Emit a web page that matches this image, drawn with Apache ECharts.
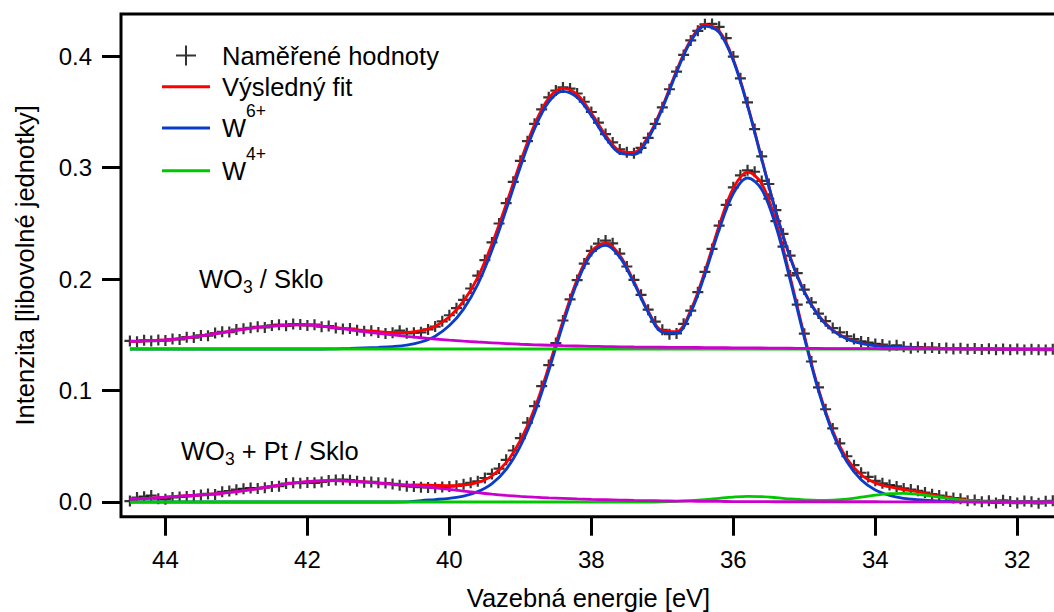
<!DOCTYPE html>
<html lang="cs">
<head>
<meta charset="utf-8">
<title>W 4f – WO3 / Sklo a WO3 + Pt / Sklo</title>
<script src="https://cdn.jsdelivr.net/npm/echarts@6.0.0/dist/echarts.min.js"></script>
<style>
  html, body { margin: 0; padding: 0; background: #fff; }
  #chart { width: 1054px; height: 612px; }
</style>
</head>
<body>
<div id="chart"></div>
<script>
// osa x: vazebná energie (eV), osa y: intenzita
const X_TICKS = [44, 42, 40, 38, 36, 34, 32];
const Y_TICKS = [0, 0.1, 0.2, 0.3, 0.4];

// naměřené body (krok 0.1 eV)
const DATA_E = [
  44.5, 44.4, 44.3, 44.2, 44.1, 44.0, 43.9, 43.8, 43.7, 43.6,
  43.5, 43.4, 43.3, 43.2, 43.1, 43.0, 42.9, 42.8, 42.7, 42.6,
  42.5, 42.4, 42.3, 42.2, 42.1, 42.0, 41.9, 41.8, 41.7, 41.6,
  41.5, 41.4, 41.3, 41.2, 41.1, 41.0, 40.9, 40.8, 40.7, 40.6,
  40.5, 40.4, 40.3, 40.2, 40.1, 40.0, 39.9, 39.8, 39.7, 39.6,
  39.5, 39.4, 39.3, 39.2, 39.1, 39.0, 38.9, 38.8, 38.7, 38.6,
  38.5, 38.4, 38.3, 38.2, 38.1, 38.0, 37.9, 37.8, 37.7, 37.6,
  37.5, 37.4, 37.3, 37.2, 37.1, 37.0, 36.9, 36.8, 36.7, 36.6,
  36.5, 36.4, 36.3, 36.2, 36.1, 36.0, 35.9, 35.8, 35.7, 35.6,
  35.5, 35.4, 35.3, 35.2, 35.1, 35.0, 34.9, 34.8, 34.7, 34.6,
  34.5, 34.4, 34.3, 34.2, 34.1, 34.0, 33.9, 33.8, 33.7, 33.6,
  33.5, 33.4, 33.3, 33.2, 33.1, 33.0, 32.9, 32.8, 32.7, 32.6,
  32.5, 32.4, 32.3, 32.2, 32.1, 32.0, 31.9, 31.8, 31.7, 31.6,
  31.5
];
const DATA_WO3 = [
  .1445, .1438, .1450, .1443, .1452, .1448, .1462, .1458, .1478, .1475,
  .1494, .1492, .1515, .1526, .1524, .1547, .1553, .1562, .1571, .1566,
  .1584, .1590, .1580, .1596, .1593, .1584, .1590, .1572, .1578, .1560,
  .1552, .1556, .1540, .1531, .1536, .1520, .1512, .1518, .1537, .1513,
  .1518, .1522, .1548, .1573, .1620, .1675, .1738, .1812, .1915, .2030,
  .2170, .2328, .2498, .2680, .2872, .3060, .3236, .3392, .3522, .3630,
  .3690, .3718, .3708, .3664, .3590, .3498, .3402, .3300, .3225, .3162,
  .3138, .3128, .3176, .3265, .3392, .3540, .3702, .3860, .4010, .4140,
  .4226, .4285, .4288, .4262, .4160, .3995, .3800, .3585, .3345, .3100,
  .2852, .2618, .2405, .2210, .2052, .1905, .1790, .1690, .1622, .1560,
  .1522, .1485, .1462, .1440, .1430, .1418, .1412, .1398, .1405, .1392,
  .1380, .1390, .1378, .1385, .1376, .1381, .1372, .1379, .1370, .1377,
  .1368, .1375, .1366, .1373, .1365, .1372, .1364, .1371, .1366, .1363,
  .1370
];
const DATA_WO3_PT = [
  .0008, .0040, .0048, .0058, .0030, .0025, .0040, .0045, .0050, .0058,
  .0062, .0072, .0068, .0092, .0098, .0110, .0118, .0125, .0122, .0128,
  .0140, .0142, .0165, .0172, .0168, .0175, .0172, .0180, .0192, .0198,
  .0200, .0196, .0185, .0178, .0180, .0172, .0170, .0162, .0150, .0142,
  .0138, .0132, .0130, .0128, .0135, .0138, .0145, .0158, .0172, .0185,
  .0215, .0252, .0300, .0378, .0462, .0572, .0712, .0860, .1040, .1228,
  .1425, .1628, .1818, .1990, .2138, .2252, .2318, .2345, .2320, .2228,
  .2112, .1992, .1858, .1725, .1618, .1545, .1505, .1512, .1598, .1716,
  .1882, .2064, .2270, .2478, .2665, .2822, .2930, .2975, .2962, .2880,
  .2720, .2520, .2290, .2032, .1770, .1510, .1260, .1028, .0832, .0660,
  .0525, .0410, .0330, .0262, .0225, .0190, .0168, .0152, .0140, .0122,
  .0112, .0100, .0085, .0070, .0058, .0045, .0035, .0030, .0012, .0018,
  .0002, .0010, -.0008, .0015, .0005, -.0010, .0008, .0002, -.0012, .0006,
  .0010
];

// fitované křivky (krok 0.2 eV)
const FIT_E = [
  44.5, 44.4, 44.2, 44.0, 43.8, 43.6, 43.4, 43.2, 43.0, 42.8,
  42.6, 42.4, 42.2, 42.0, 41.8, 41.6, 41.4, 41.2, 41.0, 40.8,
  40.6, 40.4, 40.2, 40.0, 39.8, 39.6, 39.4, 39.2, 39.0, 38.8,
  38.6, 38.4, 38.2, 38.0, 37.8, 37.6, 37.4, 37.2, 37.0, 36.8,
  36.6, 36.4, 36.2, 36.0, 35.8, 35.6, 35.4, 35.2, 35.0, 34.8,
  34.6, 34.4, 34.2, 34.0, 33.8, 33.6, 33.4, 33.2, 33.0, 32.8,
  32.6, 32.4, 32.2, 32.0, 31.8, 31.6, 31.4
];
const FIT_WO3 = [
  .1441, .1442, .1447, .1453, .1465, .1480, .1500, .1520, .1540, .1558,
  .1572, .1582, .1588, .1588, .1578, .1564, .1550, .1538, .1527, .1520,
  .1520, .1536, .1577, .1662, .1801, .2015, .2313, .2669, .3048, .3386,
  .3623, .3713, .3655, .3489, .3291, .3150, .3135, .3277, .3545, .3868,
  .4144, .4282, .4225, .3968, .3562, .3081, .2605, .2199, .1888, .1674,
  .1542, .1466, .1425, .1405, .1394, .1388, .1383, .1380, .1377, .1375,
  .1373, .1372, .1370, .1370, .1369, .1369, .1368
];
const W6_WO3 = [
  .1372, .1372, .1372, .1372, .1372, .1372, .1372, .1372, .1372, .1372,
  .1372, .1372, .1372, .1372, .1372, .1374, .1377, .1382, .1387, .1394,
  .1407, .1435, .1487, .1582, .1730, .1952, .2257, .2620, .3005, .3348,
  .3589, .3683, .3628, .3465, .3269, .3130, .3117, .3260, .3529, .3853,
  .4130, .4269, .4213, .3957, .3552, .3072, .2597, .2192, .1882, .1669,
  .1538, .1462, .1422, .1402, .1392, .1386, .1382, .1379, .1377, .1375,
  .1374, .1373, .1372, .1372, .1372, .1372, .1372
];
const BG_WO3 = [
  .1441, .1442, .1447, .1453, .1465, .1480, .1500, .1520, .1540, .1558,
  .1572, .1582, .1588, .1588, .1578, .1562, .1545, .1528, .1512, .1498,
  .1485, .1473, .1462, .1452, .1443, .1435, .1428, .1421, .1415, .1410,
  .1406, .1402, .1399, .1396, .1394, .1392, .1390, .1389, .1388, .1387,
  .1386, .1385, .1384, .1383, .1382, .1381, .1380, .1379, .1378, .1377,
  .1376, .1376, .1375, .1375, .1374, .1374, .1373, .1373, .1372, .1372,
  .1371, .1371, .1370, .1370, .1369, .1369, .1368
];
// W4+ u WO3 / Sklo je nulová -> jen základní linie
const W4_WO3_E = [44.5, 31.4];
const W4_WO3 = [.1372, .1372];

const FIT_WO3_PT = [
  .0025, .0028, .0035, .0043, .0052, .0060, .0068, .0079, .0093, .0110,
  .0130, .0152, .0170, .0182, .0189, .0191, .0188, .0180, .0170, .0160,
  .0152, .0153, .0149, .0146, .0151, .0176, .0235, .0352, .0552, .0838,
  .1213, .1624, .1995, .2247, .2321, .2213, .1977, .1713, .1535, .1528,
  .1720, .2070, .2479, .2814, .2959, .2854, .2513, .2020, .1494, .1012,
  .0638, .0388, .0244, .0170, .0135, .0112, .0090, .0064, .0042, .0023,
  .0011, .0004, .0001, 0, 0, 0, 0
];
const W6_WO3_PT = [
  0, 0, 0, 0, 0, 0, 0, 0, 0, 0,
  0, 0, 0, 0, 0, 0, 0, 0, 0, 0,
  .0001, .0013, .0022, .0033, .0053, .0093, .0165, .0293, .0502, .0795,
  .1176, .1592, .1968, .2224, .2301, .2196, .1963, .1701, .1523, .1514,
  .1701, .2043, .2441, .2766, .2906, .2803, .2472, .1991, .1474, .0996,
  .0619, .0360, .0199, .0107, .0059, .0033, .0020, .0011, .0007, .0004,
  .0002, .0001, 0, 0, 0, 0, 0
];
const W4_WO3_PT = [
  0, 0, 0, 0, 0, 0, 0, 0, 0, 0,
  0, 0, 0, 0, 0, 0, 0, 0, 0, 0,
  0, 0, 0, 0, 0, 0, 0, 0, 0, 0,
  0, 0, 0, 0, 0, 0, 0, 0, .0002, .0006,
  .0012, .0021, .0033, .0044, .0050, .0048, .0039, .0027, .0018, .0014,
  .0017, .0026, .0043, .0061, .0075, .0078, .0069, .0052, .0034, .0018,
  .0009, .0003, .0001, 0, 0, 0, 0
];
const BG_WO3_PT = [
  .0025, .0028, .0035, .0043, .0052, .0060, .0068, .0079, .0093, .0110,
  .0130, .0152, .0170, .0182, .0189, .0191, .0188, .0180, .0170, .0160,
  .0151, .0140, .0127, .0113, .0098, .0083, .0070, .0059, .0050, .0043,
  .0037, .0032, .0027, .0023, .0020, .0017, .0014, .0012, .0010, .0008,
  .0007, .0006, .0005, .0004, .0003, .0003, .0002, .0002, .0002, .0002,
  .0002, .0002, .0002, .0002, .0001, .0001, .0001, .0001, .0001, .0001,
  0, 0, 0, 0, 0, 0, 0
];

const FONT = '"Liberation Sans", Arial, Helvetica, sans-serif';
const RED = '#ff0000';
const BLUE = '#0a3ccc';
const GREEN = '#00c800';
const MAGENTA = '#cc00cc';
const CROSS = 'path://M4,0H6V4H10V6H6V10H4V6H0V4H4Z';
const CROSS_LEGEND = 'path://M9,0H11V9H20V11H11V20H9V11H0V9H9Z';
const LINE_ICON = 'path://M0,0H48V3H0Z';

const pairs = (xs, ys) => xs.map((x, i) => [x, ys[i]]);

const points = (ys) => ({
  name: 'Naměřené hodnoty',
  type: 'scatter',
  data: pairs(DATA_E, ys),
  symbol: CROSS,
  symbolSize: 11,
  itemStyle: { color: '#000' },
  silent: true,
});

const curve = (name, xs, ys, color) => ({
  name,
  type: 'line',
  data: pairs(xs, ys),
  symbol: 'none',
  smooth: 0.35,
  lineStyle: { color, width: 2.8 },
  itemStyle: { color },
  silent: true,
});

const axisText = { fontFamily: FONT, fontSize: 24, color: '#000' };
const titleText = { fontFamily: FONT, fontSize: 25.5, lineHeight: 26, color: '#000' };

// horní index u W (zvednutý přes spodní padding)
const legendRich = {
  w: { fontFamily: FONT, fontSize: 25.5, lineHeight: 26, color: '#000' },
  s: { fontFamily: FONT, fontSize: 17.5, lineHeight: 18, color: '#000', padding: [0, 0, 34, 0] },
};
const legendBase = {
  orient: 'vertical',
  left: 162,
  padding: 0,
  itemWidth: 48,
  itemHeight: 20,
  selectedMode: false,
  textStyle: { ...titleText, padding: [0, 0, 0, 7], rich: legendRich },
};

// dolní index u WO3
const noteRich = {
  n: { fontFamily: FONT, fontSize: 25.5, lineHeight: 26, fill: '#000' },
  sub: { fontFamily: FONT, fontSize: 17.5, lineHeight: 18, fill: '#000', padding: [16, 0, 0, 0] },
};

const chart = echarts.init(document.getElementById('chart'), null, { renderer: 'svg' });

chart.setOption({
  animation: false,
  backgroundColor: '#fff',
  grid: {
    left: 121, right: -2, top: 14, bottom: 95.3,
    outerBoundsMode: 'none',
    show: true, borderColor: '#000', borderWidth: 3,
  },
  xAxis: {
    type: 'value',
    inverse: true,
    min: 31.4547,
    max: 44.6256,
    name: 'Vazebná energie [eV]',
    nameLocation: 'middle',
    nameGap: 68,
    nameTextStyle: titleText,
    axisLine: { show: false, onZero: false },
    splitLine: { show: false },
    axisTick: { show: true, inside: false, length: 19, customValues: X_TICKS, lineStyle: { color: '#000', width: 3 } },
    axisLabel: { customValues: X_TICKS, margin: 31, ...axisText },
  },
  yAxis: {
    type: 'value',
    min: -0.0132,
    max: 0.4377,
    name: 'Intenzita [libovolné jednotky]',
    nameLocation: 'middle',
    nameGap: 83,
    nameTextStyle: titleText,
    axisLine: { show: false, onZero: false },
    splitLine: { show: false },
    axisTick: { show: true, inside: false, length: 19, customValues: Y_TICKS, lineStyle: { color: '#000', width: 3 } },
    axisLabel: { customValues: Y_TICKS, margin: 29, formatter: (v) => v.toFixed(1), ...axisText },
  },
  legend: [
    { ...legendBase, left: 176, top: 42.5, data: [{ name: 'Naměřené hodnoty', icon: CROSS_LEGEND }] },
    { ...legendBase, top: 73.7, data: [{ name: 'Výsledný fit', icon: LINE_ICON }] },
    { ...legendBase, top: 102, data: [{ name: 'W6+', icon: LINE_ICON }], formatter: '{w|W}{s|6+}' },
    { ...legendBase, top: 144.7, data: [{ name: 'W4+', icon: LINE_ICON }], formatter: '{w|W}{s|4+}' },
  ],
  graphic: [
    {
      type: 'text', x: 199, y: 278.5, silent: true,
      style: { text: '{n|WO}{sub|3}{n| / Sklo}', rich: noteRich, verticalAlign: 'middle', fill: '#000' },
    },
    {
      type: 'text', x: 181, y: 450.5, silent: true,
      style: { text: '{n|WO}{sub|3}{n| + Pt / Sklo}', rich: noteRich, verticalAlign: 'middle', fill: '#000' },
    },
  ],
  series: [
    points(DATA_WO3),
    points(DATA_WO3_PT),
    curve('Výsledný fit', FIT_E, FIT_WO3, RED),
    curve('Výsledný fit', FIT_E, FIT_WO3_PT, RED),
    curve('W6+', FIT_E, W6_WO3, BLUE),
    curve('W6+', FIT_E, W6_WO3_PT, BLUE),
    curve('W4+', W4_WO3_E, W4_WO3, GREEN),
    curve('W4+', FIT_E, W4_WO3_PT, GREEN),
    curve('Pozadí', FIT_E, BG_WO3, MAGENTA),
    curve('Pozadí', FIT_E, BG_WO3_PT, MAGENTA),
  ],
});
</script>
</body>
</html>
